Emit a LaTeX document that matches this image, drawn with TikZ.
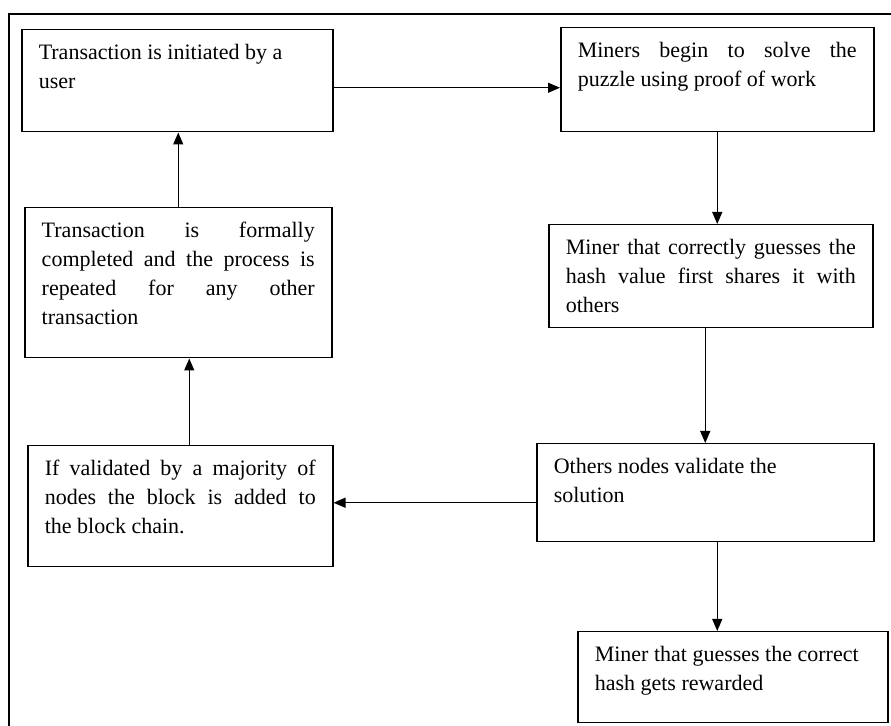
\documentclass[tikz,border=0pt]{standalone}
\usepackage{fontspec}
\setmainfont{Liberation Serif}
\usetikzlibrary{arrows.meta}
\newcommand{\stagetext}[3]{\parbox[c][#2][t]{#1}{\fontsize{11}{14.5}\selectfont #3}}

\begin{document}
\begin{tikzpicture}[x=0.5pt,y=-0.5pt,
    stage/.style={draw, line width=0.75pt, anchor=north west, inner xsep=8.5pt, inner ysep=7pt},
    flow/.style={-{Triangle[width=5pt,length=6pt]}, line width=0.65pt}]
                    \useasboundingbox (0,0) rectangle (891,726);
                    \clip (0,0) rectangle (891,726);
                    \draw [line width=0.8pt] (9,14) rectangle (900,740);
                    % left column
                    \node [stage] (init) at (21,29) {\stagetext{138.5pt}{37pt}{Transaction is initiated by a\\ user}};
                    \node [stage] (done) at (24,207) {\stagetext{136.5pt}{61pt}{Transaction is formally\linebreak completed and the process is\linebreak repeated for any other\linebreak transaction}};
                    \node [stage] (added) at (27,445) {\stagetext{135.5pt}{46.5pt}{If validated by a majority of\linebreak nodes the block is added to\linebreak the block chain.}};
                    % right column
                    \node [stage] (solve) at (560,27) {\stagetext{139.5pt}{38pt}{Miners begin to solve the\linebreak puzzle using proof of work}};
                    \node [stage] (share) at (548,224) {\stagetext{145pt}{37.5pt}{Miner that correctly guesses the\linebreak hash value first shares it with\linebreak others}};
                    \node [stage] (valid) at (536,443) {\stagetext{151.5pt}{35pt}{Others nodes validate the\\ solution}};
                    \node [stage] (reward) at (577,631) {\stagetext{138pt}{31.5pt}{Miner that guesses the correct\\ hash gets rewarded}};
                    % arrows
                    \draw [flow] ([yshift=-3.5pt]init.east) coordinate (a1) -- (a1 -| solve.west);
                    \draw [flow] (solve.south) -- (solve.south |- share.north);
                    \draw [flow] (valid.north |- share.south) -- (valid.north);
                    \draw [flow] ([xshift=6pt]valid.south) coordinate (a2) -- (a2 |- reward.north);
                    \draw [flow] ([yshift=-5pt]valid.west) coordinate (a3) -- (a3 -| added.east);
                    \draw [flow] ([xshift=4.5pt]added.north) coordinate (a4) -- (a4 |- done.south);
                    \draw [flow] (done.north) -- (done.north |- init.south);
                \end{tikzpicture}
\end{document}
